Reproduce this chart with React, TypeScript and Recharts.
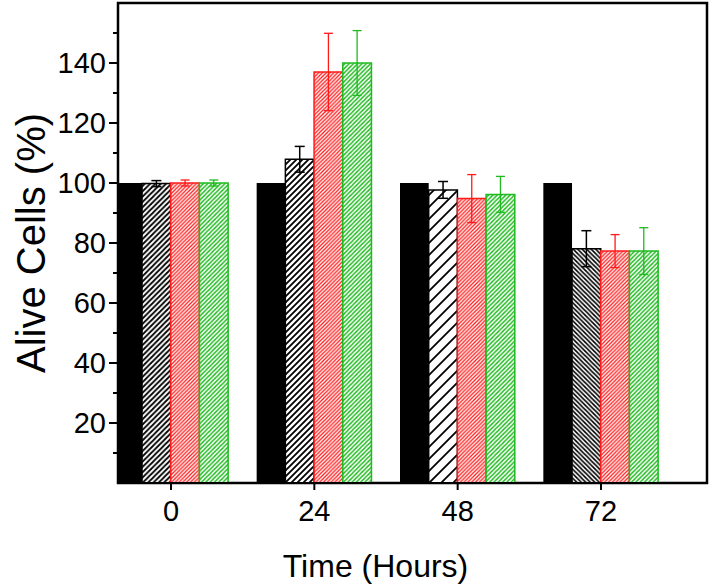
import { BarChart, Bar, XAxis, YAxis, ErrorBar, Cell, Label, ReferenceArea } from 'recharts';

// Time points (hours)
const hours = [0, 24, 48, 72];

// Series values (% alive cells)
const control = [100, 100, 100, 100];
const seriesA = [99.8, 107.9, 97.7, 78.1];
const seriesAErr = [1, 4.3, 2.8, 6];
const seriesB = [100, 137, 94.8, 77.3];
const seriesBErr = [1, 12.9, 8, 5.5];
const seriesC = [100, 140, 96.2, 77.3];
const seriesCErr = [1, 10.8, 6, 7.8];

// Axis ticks
const yTicks = [10, 20, 30, 40, 50, 60, 70, 80, 90, 100, 110, 120, 130, 140, 150];
const yMajor = [20, 40, 60, 80, 100, 120, 140];

const data = hours.map((h, i) => ({
  hour: h,
  control: control[i],
  a: seriesA[i],
  aErr: seriesAErr[i],
  b: seriesB[i],
  bErr: seriesBErr[i],
  c: seriesC[i],
  cErr: seriesCErr[i],
}));

const RED = '#ff1a1a';
const GREEN = '#1fba1f';
const FONT = '"Liberation Sans", Arial, Helvetica, sans-serif';

const X_DOMAIN: [number, number] = [-8.875, 89.75];
const Y_DOMAIN: [number, number] = [0, 160];
const BLACK_PATTERNS = ['hatchK0', 'hatchK24', 'hatchK48', 'hatchK72'];

// diagonal hatch tile, h = horizontal period
function Hatch({ id, h, color, width, back = false }: { id: string; h: number; color: string; width: number; back?: boolean }) {
  const d = back
    ? `M0,0 L${h},${h} M${-h / 4},${(3 * h) / 4} L${h / 4},${(5 * h) / 4} M${(3 * h) / 4},${-h / 4} L${(5 * h) / 4},${h / 4}`
    : `M0,${h} L${h},0 M${-h / 4},${h / 4} L${h / 4},${-h / 4} M${(3 * h) / 4},${(5 * h) / 4} L${(5 * h) / 4},${(3 * h) / 4}`;
  return (
    <pattern id={id} patternUnits="userSpaceOnUse" width={h} height={h}>
      <rect width={h} height={h} fill="#fff" />
      <path d={d} stroke={color} strokeWidth={width} />
    </pattern>
  );
}

// y ticks: long for labelled majors, short for minors
const YTick = (props: any) => {
  const { x, y, payload } = props;
  const axisX = x + 12;
  const major = yMajor.includes(payload.value);
  return (
    <g>
      <line x1={axisX - (major ? 9 : 5)} x2={axisX} y1={y} y2={y} stroke="#000" strokeWidth={2} />
      {major && (
        <text x={x} y={y} dy="0.36em" textAnchor="end" fontSize={29} fill="#000" fontFamily={FONT}>
          {payload.value}
        </text>
      )}
    </g>
  );
};

export default function App() {
  return (
    <div style={{ position: 'absolute', left: 0, top: 0, width: 712, height: 584, background: '#fff', fontFamily: FONT }}>
      <BarChart
        width={712}
        height={584}
        data={data}
        margin={{ top: 3, right: 5, bottom: 0, left: 0 }}
        barGap={0}
        barSize={28.7}
      >
        <defs>
          <Hatch id="hatchK0" h={5.3} color="#000" width={1.8} />
          <Hatch id="hatchK24" h={6} color="#000" width={1.8} />
          <Hatch id="hatchK48" h={12} color="#000" width={1.8} />
          <Hatch id="hatchK72" h={4.5} color="#000" width={1.6} back />
          <Hatch id="hatchR" h={3.8} color={RED} width={1.3} />
          <Hatch id="hatchG" h={4.3} color={GREEN} width={1.4} />
        </defs>

        <XAxis
          dataKey="hour"
          type="number"
          domain={X_DOMAIN}
          ticks={hours}
          allowDataOverflow
          height={101}
          tickSize={7}
          tickMargin={10}
          tick={{ fill: '#000', fontSize: 29 }}
          tickLine={{ stroke: '#000', strokeWidth: 2 }}
          axisLine={{ stroke: '#000', strokeWidth: 2 }}
        >
          <Label
            content={(p: any) => {
              const vb = p.viewBox;
              return (
                <text x={vb.x + vb.width / 2 - 37} y={vb.y + vb.height - 7} textAnchor="middle" fontSize={32} fill="#000" fontFamily={FONT}>
                  Time (Hours)
                </text>
              );
            }}
          />
        </XAxis>
        <YAxis
          type="number"
          domain={Y_DOMAIN}
          ticks={yTicks}
          interval={0}
          width={118}
          tickSize={9}
          tickMargin={3}
          tickLine={false}
          tick={<YTick />}
          axisLine={{ stroke: '#000', strokeWidth: 2 }}
        >
          <Label
            content={(p: any) => {
              const vb = p.viewBox;
              const cx = vb.x + 31;
              const cy = vb.y + vb.height / 2;
              return (
                <text x={cx} y={cy} dy="0.36em" textAnchor="middle" transform={`rotate(-90, ${cx}, ${cy})`} fontSize={40} fill="#000" fontFamily={FONT}>
                  Alive Cells (%)
                </text>
              );
            }}
          />
        </YAxis>

        {/* plot frame */}
        <ReferenceArea
          x1={X_DOMAIN[0]}
          x2={X_DOMAIN[1]}
          y1={Y_DOMAIN[0]}
          y2={Y_DOMAIN[1]}
          fill="none"
          fillOpacity={0}
          stroke="#000"
          strokeWidth={2.5}
          ifOverflow="visible"
        />

        <Bar dataKey="control" fill="#000" isAnimationActive={false} />
        <Bar dataKey="a" stroke="#000" strokeWidth={1.5} isAnimationActive={false}>
          {data.map((_, i) => (
            <Cell key={i} fill={`url(#${BLACK_PATTERNS[i]})`} />
          ))}
          <ErrorBar dataKey="aErr" width={5} stroke="#000" strokeWidth={1.5} />
        </Bar>
        <Bar dataKey="b" fill="url(#hatchR)" stroke={RED} strokeWidth={1.5} isAnimationActive={false}>
          <ErrorBar dataKey="bErr" width={4.5} stroke={RED} strokeWidth={1.3} />
        </Bar>
        <Bar dataKey="c" fill="url(#hatchG)" stroke={GREEN} strokeWidth={1.5} isAnimationActive={false}>
          <ErrorBar dataKey="cErr" width={4.5} stroke={GREEN} strokeWidth={1.3} />
        </Bar>
      </BarChart>
    </div>
  );
}
